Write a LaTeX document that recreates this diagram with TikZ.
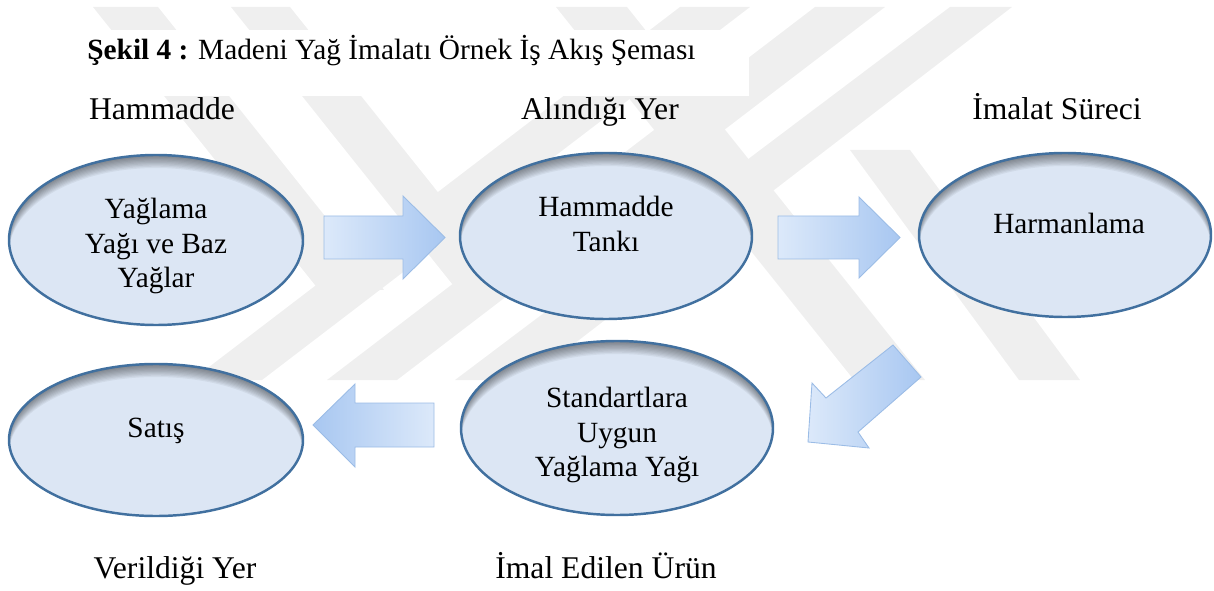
\documentclass[tikz,border=0pt]{standalone}
\usepackage{fontspec}
\setmainfont{Liberation Serif}
\usetikzlibrary{shapes.geometric}

\definecolor{ovalfill}{HTML}{DCE6F4}
\definecolor{ovalrim}{HTML}{41709F}
\definecolor{arrlight}{HTML}{DCE9FA}
\definecolor{arrdark}{HTML}{A8C7F1}
\definecolor{arredge}{HTML}{9BBCE6}
\definecolor{wmgrey}{HTML}{EFEFEF}

\tikzset{
  oval/.style={ellipse, fill=ovalfill, inner sep=0pt, outer sep=0pt},
  rim/.style={draw=ovalrim, line width=1.4pt},
  ovaltext/.style={align=center, font=\fontsize{16.7}{19.9}\selectfont},
  headtext/.style={anchor=base, font=\fontsize{18}{21.6}\selectfont},
  blockarrow/.style={draw=arredge, line width=0.5pt},
  wmark/.style={fill=wmgrey},
}

\begin{document}
\begin{tikzpicture}[x=0.02cm, y=-0.02cm]
    \useasboundingbox (0,0) rectangle (1214,591);

    % faint logo behind
    \fill[wmark] (93,7) -- (158,7) -- (384,290) -- (319,290) -- cycle;
    \fill[wmark] (231,7) -- (290,7) -- (516,290) -- (457,290) -- cycle;
    \fill[wmark] (556,7) -- (627,7) -- (925,380) -- (854,380) -- cycle;
    \fill[wmark] (680,7) -- (750,7) -- (262,380) -- (192,380) -- cycle;
    \fill[wmark] (815,7) -- (885,7) -- (397,380) -- (327,380) -- cycle;
    \fill[wmark] (950,7) -- (1012,7) -- (527,380) -- (455,380) -- cycle;
    \fill[wmark] (850,150) -- (910,150) -- (1080,380) -- (1019,380) -- cycle;
    \fill[white] (80,30) rectangle (749,96);

    % ovals
    \foreach \n/\cx/\cy/\rx/\ry in {e1/156/240/147/85, e2/606/236/146/83, e3/1065/235/146/82, e4/156/440/147/76, e5/617/428/156/87}{
        \node[oval, minimum width=\rx*0.04cm, minimum height=\ry*0.04cm] (\n) at (\cx,\cy) {};
        \begin{scope}
            \clip (\n.center) ellipse [x radius=\rx, y radius=\ry];
            \foreach \k in {1,...,10}
                \fill[black, opacity=0.05, even odd rule] (\cx-\rx,\cy-\ry) rectangle (\cx+\rx,\cy+\ry) (\cx,\cy+1.3*\k) ellipse [x radius=\rx, y radius=\ry];
        \end{scope}
        \draw[rim] (\n.center) ellipse [x radius=\rx, y radius=\ry];
    }

    % block arrows
    \draw[blockarrow, left color=arrlight, right color=arrdark] (324,216) -- (403,216) -- (403,196) -- (445,237.5) -- (403,279) -- (403,259) -- (324,259) -- cycle;
    \draw[blockarrow, left color=arrlight, right color=arrdark] (778,216) -- (859,216) -- (859,197) -- (900,237.5) -- (859,278) -- (859,259) -- (778,259) -- cycle;
    \draw[blockarrow, left color=arrlight, right color=arrdark] (893,345) -- (826,398) -- (812,383) -- (808,442) -- (869,448) -- (858,432) -- (921,377) -- cycle;
    \draw[blockarrow, left color=arrdark, right color=arrlight] (434,403) -- (355,403) -- (355,384) -- (313,425) -- (355,467) -- (355,447) -- (434,447) -- cycle;

    % texts
    \node[ovaltext] (t1) at (156,246) {Yağlama\\Yağı ve Baz\\Yağlar};
    \node[ovaltext] (t2) at (606,224) {Hammadde\\Tankı};
    \node[ovaltext, anchor=base] (t3) at (1069,234) {Harmanlama};
    \node[ovaltext, anchor=base] (t4) at (156,437) {Satış};
    \node[ovaltext] (t5) at (617,435) {Standartlara\\Uygun\\Yağlama Yağı};

    \node[headtext] (h1) at (162,120) {Hammadde};
    \node[headtext] (h2) at (600,120) {Alındığı Yer};
    \node[headtext] (h3) at (1057,120) {İmalat Süreci};
    \node[headtext] (h4) at (175,578) {Verildiği Yer};
    \node[headtext] (h5) at (606,578) {İmal Edilen Ürün};

    \node[anchor=base west, inner sep=0pt, font=\fontsize{16.7}{20}\selectfont] (cap) at (87,60) {\textbf{Şekil 4 :} Madeni Yağ İmalatı Örnek İş Akış Şeması};
\end{tikzpicture}
\end{document}
